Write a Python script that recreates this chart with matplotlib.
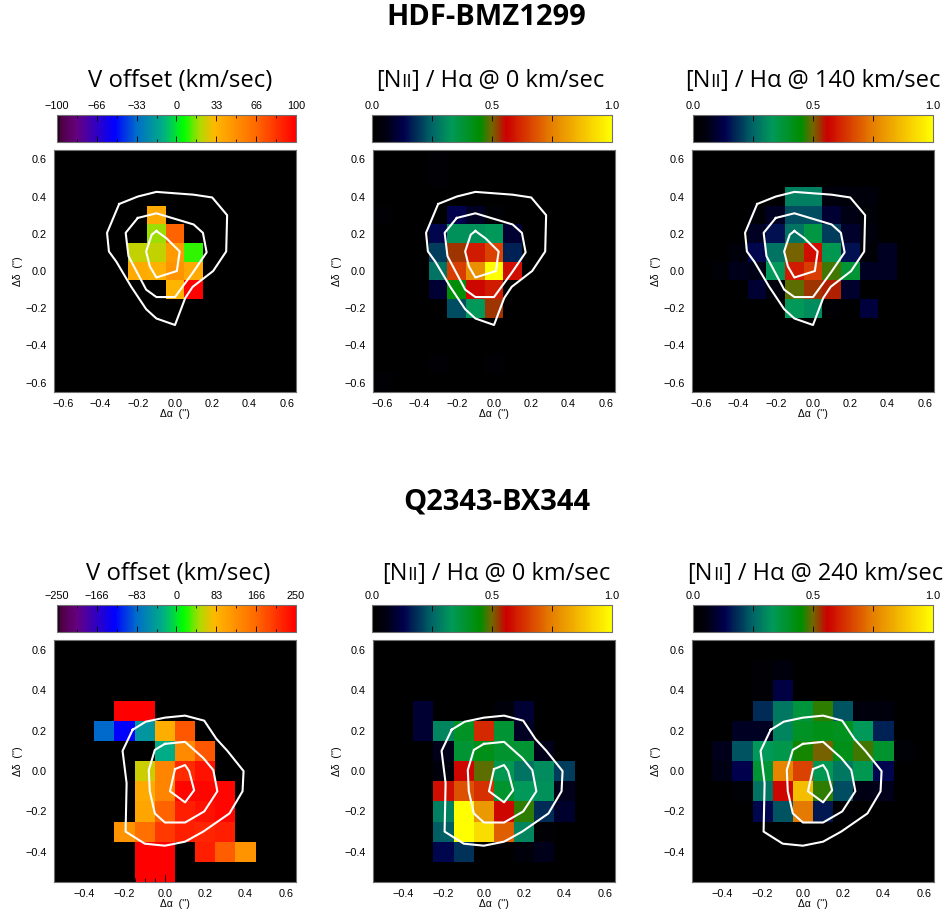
import numpy as np
import matplotlib
matplotlib.use('Agg')
import matplotlib.pyplot as plt
from matplotlib.colors import LinearSegmentedColormap, Normalize

N = np.nan

# top galaxy, x -0.6..0.6, rows y 0.6..-0.6
bmz_vel = [
    [N]*13, [N]*13, [N]*13,
    [N, N, N, N, N, 38, N, N, N, N, N, N, N],
    [N, N, N, N, N, 18, 68, N, N, N, N, N, N],
    [N, N, N, N, 22, 22, 45, 10, N, N, N, N, N],
    [N, N, N, N, 38, 35, 48, 38, N, N, N, N, N],
    [N, N, N, N, N, N, 33, 100, N, N, N, N, N],
    [N]*13, [N]*13, [N]*13, [N]*13, [N]*13,
]
bmz_ratio_0 = [
    [0, 0, 0, .02, 0, 0, 0, 0, 0, 0, 0, 0, 0],
    [0, 0, 0, .02, 0, 0, 0, 0, 0, 0, 0, 0, 0],
    [0]*13,
    [.02, 0, 0, 0, .13, .08, .03, 0, 0, 0, 0, 0, 0],
    [0, 0, 0, .14, .32, .32, .33, .1, 0, 0, 0, 0, 0],
    [0, 0, 0, .2, .53, .6, .66, .17, 0, 0, 0, 0, 0],
    [0, 0, 0, .27, .65, .78, 1., .58, 0, 0, 0, 0, 0],
    [0, 0, 0, .1, .44, .57, .6, 0, 0, 0, 0, 0, 0],
    [0, 0, 0, 0, .22, .33, .53, 0, 0, 0, 0, 0, 0],
    [0]*13, [0]*13,
    [0, 0, 0, .02, 0, 0, .02, 0, 0, 0, 0, 0, 0],
    [.02, 0, 0, 0, 0, 0, 0, 0, 0, 0, 0, 0, 0],
]
bmz_ratio_140 = [
    [0]*13, [0]*13,
    [0, 0, 0, 0, 0, .29, .29, .05, .04, .04, 0, 0, 0],
    [0, 0, 0, .03, .08, .22, .22, .1, .06, .03, 0, 0, 0],
    [0, 0, 0, .08, .15, .27, .36, .2, .09, .05, 0, 0, 0],
    [0, 0, .04, .14, .27, .5, .58, .34, .15, .03, .08, 0, 0],
    [0, .03, .07, .06, .33, .6, .65, .48, .38, .08, .08, 0, 0],
    [0, 0, 0, .1, .04, .49, .53, .54, .09, 0, 0, 0, 0],
    [0, 0, 0, 0, 0, .33, .31, .02, 0, .11, 0, 0, 0],
    [0]*13, [0]*13, [0]*13, [0]*13,
]

# bottom galaxy, x -0.5..0.6, rows y 0.6..-0.5
bx_vel = [
    [N]*12, [N]*12, [N]*12,
    [N, N, N, 250, 250, N, N, N, N, N, N, N],
    [N, N, -85, -130, -50, 90, 180, N, N, N, N, N],
    [N, N, N, N, N, -30, 130, 180, N, N, N, N],
    [N, N, N, N, 60, 135, 215, 235, N, N, N, N],
    [N, N, N, N, 95, 135, 245, 245, 245, N, N, N],
    [N, N, N, N, 100, 170, 225, 235, 245, N, N, N],
    [N, N, N, 120, 160, 205, 225, 220, 225, N, N, N],
    [N, N, N, N, 250, 250, N, 225, 175, 120, N, N],
    [N, N, N, N, 250, 250, N, N, N, N, N, N],
]
bx_ratio_0 = [
    [0]*12, [0]*12, [0]*12,
    [0, 0, .1, 0, 0, 0, .04, .1, 0, 0, 0, 0],
    [0, 0, .1, .3, .4, .62, .38, .08, 0, 0, 0, 0],
    [0, 0, 0, .07, .38, .42, .39, .38, .07, 0, 0, 0],
    [0, 0, 0, .05, .57, .49, .34, .27, .31, .2, 0, 0],
    [0, 0, 0, .58, .68, .63, .39, .33, .32, .07, 0, 0],
    [0, 0, 0, .29, 1., .8, .57, .47, .18, .09, 0, 0],
    [0, 0, 0, .24, 1., .93, .7, .3, .02, 0, 0, 0],
    [0, 0, 0, .14, .19, 0, 0, .04, .07, 0, 0, 0],
    [0]*12,
]
bx_ratio_240 = [
    [0]*12,
    [0, 0, 0, .02, .05, 0, 0, 0, 0, 0, 0, 0],
    [0, 0, 0, .02, .12, 0, 0, 0, 0, 0, 0, 0],
    [0, 0, 0, .18, .28, .37, .47, .23, .05, .05, 0, 0],
    [0, 0, .08, .08, .3, .4, .42, .41, .33, .17, 0, 0],
    [0, .07, .23, .33, .35, .46, .5, .42, .48, .39, .03, 0],
    [0, .06, .13, .38, .76, .66, .34, .28, .34, .14, 0, 0],
    [0, 0, .03, .27, .57, .87, .47, .22, .06, .07, 0, 0],
    [0, 0, 0, .14, .23, .74, .16, .02, 0, 0, 0, 0],
    [0]*12, [0]*12, [0]*12,
]

# white contours, (dalpha, ddelta)
bmz_contours = [
    [(-0.30, 0.36), (-0.20, 0.40), (-0.10, 0.425), (0.10, 0.41), (0.20, 0.395), (0.28, 0.30),
     (0.275, 0.105), (0.205, 0.0), (0.095, -0.085), (0.055, -0.145), (0.0, -0.29), (-0.10, -0.255),
     (-0.155, -0.205), (-0.235, -0.085), (-0.315, 0.05), (-0.355, 0.105), (-0.365, 0.205), (-0.30, 0.36)],
    [(-0.2, 0.285), (-0.1, 0.31), (0.1, 0.25), (0.15, 0.205), (0.17, 0.10), (0.095, -0.01), (0.0, -0.14),
     (-0.1, -0.14), (-0.155, -0.10), (-0.25, 0.08), (-0.265, 0.205), (-0.2, 0.285)],
    [(-0.10, 0.215), (-0.045, 0.175), (0.025, 0.105), (0.01, 0.0), (-0.10, -0.035), (-0.135, 0.025),
     (-0.155, 0.105), (-0.125, 0.195), (-0.10, 0.215)],
]
bx_contours = [
    [(-0.16, 0.205), (-0.095, 0.245), (0.0, 0.265), (0.10, 0.275), (0.195, 0.25), (0.255, 0.16), (0.31, 0.10),
     (0.39, 0.0), (0.385, -0.10), (0.32, -0.21), (0.19, -0.30), (0.10, -0.35), (0.0, -0.37), (-0.10, -0.36),
     (-0.195, -0.30), (-0.19, -0.06), (-0.21, 0.10), (-0.16, 0.205)],
    [(0.0, 0.135), (0.10, 0.145), (0.19, 0.065), (0.24, 0.005), (0.26, -0.10), (0.195, -0.20), (0.10, -0.255),
     (0.0, -0.255), (-0.05, -0.21), (-0.075, -0.10), (-0.08, 0.005), (-0.05, 0.105), (0.0, 0.135)],
    [(0.05, 0.01), (0.10, 0.03), (0.12, 0.0), (0.145, -0.095), (0.10, -0.155), (0.025, -0.10), (0.05, 0.01)],
]

vel_cmap = LinearSegmentedColormap.from_list('vel', [
    (0.0, (0, 0, 0)), (0.012, (0.3, 0, 0.25)), (0.08, (0.4, 0, 0.5)), (0.24, (0, 0, 1)),
    (0.33, (0, 0.42, 0.8)), (0.45, (0, 0.7, 0.5)), (0.53, (0, 1, 0)), (0.6, (0.7, 0.85, 0)),
    (0.66, (1, 0.72, 0)), (0.83, (1, 0.42, 0)), (1.0, (1, 0, 0))])
vel_cmap.set_bad('black')
ratio_cmap = LinearSegmentedColormap.from_list('ratio', [
    (0.0, (0, 0, 0)), (0.05, (0, 0, 0.05)), (0.13, (0, 0, 0.3)), (0.25, (0, 0.4, 0.4)),
    (0.33, (0, 0.6, 0.35)), (0.45, (0, 0.55, 0)), (0.5, (0.45, 0.4, 0)), (0.56, (0.8, 0, 0)),
    (0.75, (0.9, 0.5, 0)), (0.9, (0.97, 0.8, 0)), (1.0, (1, 1, 0))])

W, H = 948, 917
fig = plt.figure(figsize=(W / 100, H / 100), dpi=100)
plt.rcParams['font.family'] = ['Liberation Sans', 'DejaVu Sans']


def px_axes(x0, x1, y0, y1):
    return fig.add_axes([x0 / W, 1 - y1 / H, (x1 - x0) / W, (y1 - y0) / H])


def draw_runs(runs, xc, y, color='black'):
    # title with smaller "II", runs are laid out side by side
    r = fig.canvas.get_renderer()
    items = [fig.text(0, 1 - y / H, s, fontsize=fs, family=['Open Sans', 'DejaVu Sans'], va='baseline', color=color)
             for s, fs in runs]
    widths = [t.get_window_extent(r).width for t in items]
    x = xc - sum(widths) / 2
    for t, w in zip(items, widths):
        t.set_x(x / W)
        x += w


def ratio_title(speed, xc, y, fs=17):
    draw_runs([('[N', fs), ('II', fs * 0.8), ('] / H\u03b1 @ %s km/sec' % speed, fs)], xc, y)


def panel(x0, x1, y0, bar_x0, bar_x1, bar_y0, data, xlo, ylo, contours, cmap, vmax, ticks, labels, minor=()):
    ax = px_axes(x0, x1, y0, y0 + 242)
    arr = np.ma.masked_invalid(np.array(data, dtype=float))
    nrow, ncol = arr.shape
    xe = xlo + 0.1 * np.arange(ncol + 1)
    ye = ylo + 0.1 * nrow - 0.1 * np.arange(nrow + 1)
    vmin = -vmax if cmap is vel_cmap else 0.0
    mesh = ax.pcolormesh(xe, ye, arr, cmap=cmap, norm=Normalize(vmin, vmax), linewidth=0, rasterized=True)
    ax.set_facecolor('black')
    for c in contours:
        xs, ys = zip(*c)
        ax.plot(xs, ys, color='white', lw=1.5, solid_joinstyle='round')
    ax.set_xlim(xlo, 0.65)
    ax.set_ylim(ylo, 0.65)
    major = np.arange(-0.6 if xlo < -0.6 else -0.4, 0.61, 0.2)
    ax.set_xticks(major)
    ax.set_yticks(major)
    ax.set_xticks(np.arange(xlo + 0.05 if xlo < -0.6 else -0.55, 0.66, 0.05), minor=True)
    ax.set_yticks(np.arange(xlo + 0.05 if xlo < -0.6 else -0.55, 0.66, 0.05), minor=True)
    ax.xaxis.set_major_formatter(lambda v, p: ('%.1f' % v).replace('-', '\u2212').replace('\u22120.0', '0.0'))
    ax.yaxis.set_major_formatter(lambda v, p: ('%.1f' % v).replace('-', '\u2212').replace('\u22120.0', '0.0'))
    ax.tick_params(which='major', direction='in', top=True, right=True, length=6, width=0.6, color='black',
                   labelsize=7.8, pad=5)
    ax.tick_params(which='minor', direction='in', top=True, right=True, length=3, width=0.6, color='black')
    for s in ax.spines.values():
        s.set_color('#707070')
        s.set_linewidth(0.8)
    ax.set_xlabel('\u0394\u03b1  (\'\')', fontsize=7.5, labelpad=0)
    ax.set_ylabel('\u0394\u03b4  (\'\')', fontsize=7.5, labelpad=2)

    cax = px_axes(bar_x0, bar_x1, bar_y0, bar_y0 + 27)
    cb = fig.colorbar(mesh, cax=cax, orientation='horizontal', ticklocation='top')
    cb.set_ticks(ticks, labels=labels)
    cb.minorticks_off()
    cax.set_xticks(minor, minor=True)
    cax.tick_params(which='major', direction='in', top=True, bottom=True, length=4, width=0.6, color='black',
                    labelsize=7.8, pad=3)
    cax.tick_params(which='minor', direction='in', top=True, bottom=True, length=2.5, width=0.6, color='black')
    cb.outline.set_edgecolor('#707070')
    cb.outline.set_linewidth(0.8)


def vel_ticks(vmax, names):
    t = np.array([-1, -2 / 3, -1 / 3, 0, 1 / 3, 2 / 3, 1]) * vmax
    return t, names, (t[:-1] + t[1:]) / 2


ratio_t = [0, 0.25, 0.5, 0.75, 1.0]
ratio_l = ['0.0', '', '0.5', '', '1.0']
t1, l1, m1 = vel_ticks(100, ['\u2212100', '\u221266', '\u221233', '0', '33', '66', '100'])
t2, l2, m2 = vel_ticks(250, ['\u2212250', '\u2212166', '\u221283', '0', '83', '166', '250'])

panel(54, 296, 150, 57, 296, 115, bmz_vel, -0.65, -0.65, bmz_contours, vel_cmap, 100, t1, l1, m1)
panel(373, 615, 150, 372, 612, 115, bmz_ratio_0, -0.65, -0.65, bmz_contours, ratio_cmap, 1.0, ratio_t, ratio_l)
panel(692, 934, 150, 693, 933, 115, bmz_ratio_140, -0.65, -0.65, bmz_contours, ratio_cmap, 1.0, ratio_t, ratio_l)
panel(54, 296, 640, 57, 296, 605, bx_vel, -0.55, -0.55, bx_contours, vel_cmap, 250, t2, l2, m2)
panel(373, 615, 640, 372, 612, 605, bx_ratio_0, -0.55, -0.55, bx_contours, ratio_cmap, 1.0, ratio_t, ratio_l)
panel(692, 934, 640, 693, 933, 605, bx_ratio_240, -0.55, -0.55, bx_contours, ratio_cmap, 1.0, ratio_t, ratio_l)

fig.canvas.draw()
for name, xc, y in [('HDF-BMZ1299', 486, 25), ('Q2343-BX344', 497, 510)]:
    fig.text(xc / W, 1 - y / H, name, fontsize=21, fontweight='bold', family=['Open Sans', 'DejaVu Sans'],
             ha='center', va='baseline')
draw_runs([('V offset (km/sec)', 17.2)], 180, 87)
draw_runs([('V offset (km/sec)', 17.2)], 178, 580)
ratio_title('0', 490, 87)
ratio_title('140', 813, 87)
ratio_title('0', 496, 580)
ratio_title('240', 815, 580)

fig.savefig('out.png', dpi=100)
